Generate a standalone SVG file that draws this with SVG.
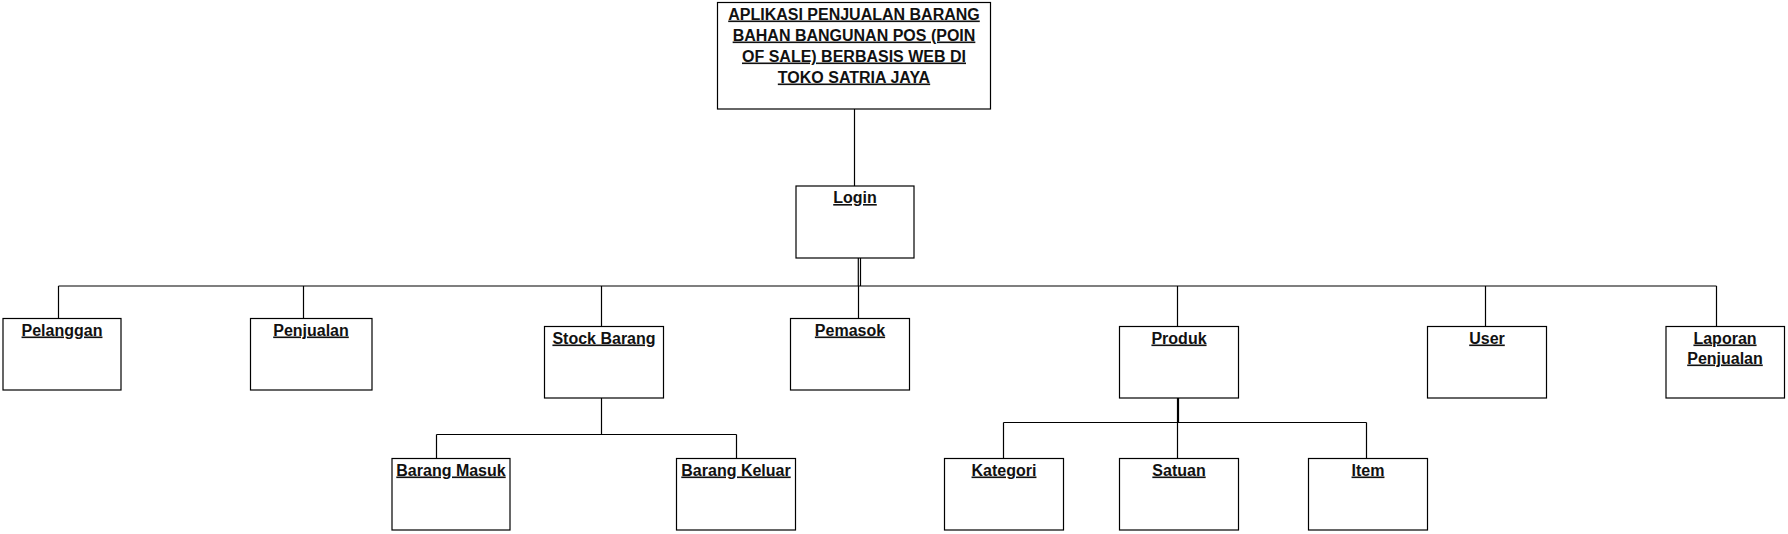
<svg xmlns="http://www.w3.org/2000/svg" width="1788" height="534" viewBox="0 0 1788 534">
<style>
.box{fill:#fff;stroke:#000;stroke-width:1.2}
.t{font-family:"Liberation Sans",Arial,sans-serif;font-size:16px;font-weight:bold;fill:#111;text-anchor:middle;text-decoration:underline}
.c{fill:none;stroke:#000;stroke-width:1.2}
</style>
<rect width="1788" height="534" fill="#fff"/>
<g id="connectors">
<path class="c" d="M854.5 109V186"/>
<path class="c" d="M858.3 258V286M860.5 258V286"/>
<path class="c" d="M58.5 286H1716.5"/>
<path class="c" d="M58.5 286V318M303.5 286V318M601.5 286V326M858.5 286V318M1177.5 286V326M1485.5 286V326M1716.5 286V326"/>
<path class="c" d="M601.5 398V434.5M436.5 434.5H736.5M436.5 434.5V458M736.5 434.5V458"/>
<path fill="none" stroke="#000" stroke-width="2.2" d="M1178 398V422.5"/>
<path class="c" d="M1003.5 422.5H1366.5M1003.5 422.5V458M1177.5 422.5V458M1366.5 422.5V458"/>
</g>
<g id="title">
<rect class="box" x="717.5" y="2.5" width="273" height="106.5"/>
<text class="t" x="854" y="19.5">APLIKASI PENJUALAN BARANG</text>
<text class="t" x="854" y="40.5">BAHAN BANGUNAN POS (POIN</text>
<text class="t" x="854" y="61.5">OF SALE) BERBASIS WEB DI</text>
<text class="t" x="854" y="82.5">TOKO SATRIA JAYA</text>
</g>
<g id="login">
<rect class="box" x="796" y="186" width="118" height="72"/>
<text class="t" x="855" y="203">Login</text>
</g>
<g id="pelanggan">
<rect class="box" x="3" y="318.5" width="118" height="71.5"/>
<text class="t" x="62" y="335.5">Pelanggan</text>
</g>
<g id="penjualan">
<rect class="box" x="250.5" y="318.5" width="121.5" height="71.5"/>
<text class="t" x="311" y="335.5">Penjualan</text>
</g>
<g id="stock-barang">
<rect class="box" x="544.5" y="326.5" width="119" height="71.5"/>
<text class="t" x="604" y="343.5">Stock Barang</text>
</g>
<g id="pemasok">
<rect class="box" x="790.5" y="318.5" width="119" height="71.5"/>
<text class="t" x="850" y="335.5">Pemasok</text>
</g>
<g id="produk">
<rect class="box" x="1119.5" y="326.5" width="119" height="71.5"/>
<text class="t" x="1179" y="343.5">Produk</text>
</g>
<g id="user">
<rect class="box" x="1427.5" y="326.5" width="119" height="71.5"/>
<text class="t" x="1487" y="343.5">User</text>
</g>
<g id="laporan-penjualan">
<rect class="box" x="1666" y="326.5" width="118.5" height="71.5"/>
<text class="t" x="1725" y="343.5">Laporan</text>
<text class="t" x="1725" y="363.5">Penjualan</text>
</g>
<g id="barang-masuk">
<rect class="box" x="392" y="458.5" width="118" height="71.5"/>
<text class="t" x="451" y="475.5">Barang Masuk</text>
</g>
<g id="barang-keluar">
<rect class="box" x="676.5" y="458.5" width="119" height="71.5"/>
<text class="t" x="736" y="475.5">Barang Keluar</text>
</g>
<g id="kategori">
<rect class="box" x="944.5" y="458.5" width="119" height="71.5"/>
<text class="t" x="1004" y="475.5">Kategori</text>
</g>
<g id="satuan">
<rect class="box" x="1119.5" y="458.5" width="119" height="71.5"/>
<text class="t" x="1179" y="475.5">Satuan</text>
</g>
<g id="item">
<rect class="box" x="1308.5" y="458.5" width="119" height="71.5"/>
<text class="t" x="1368" y="475.5">Item</text>
</g>
</svg>
